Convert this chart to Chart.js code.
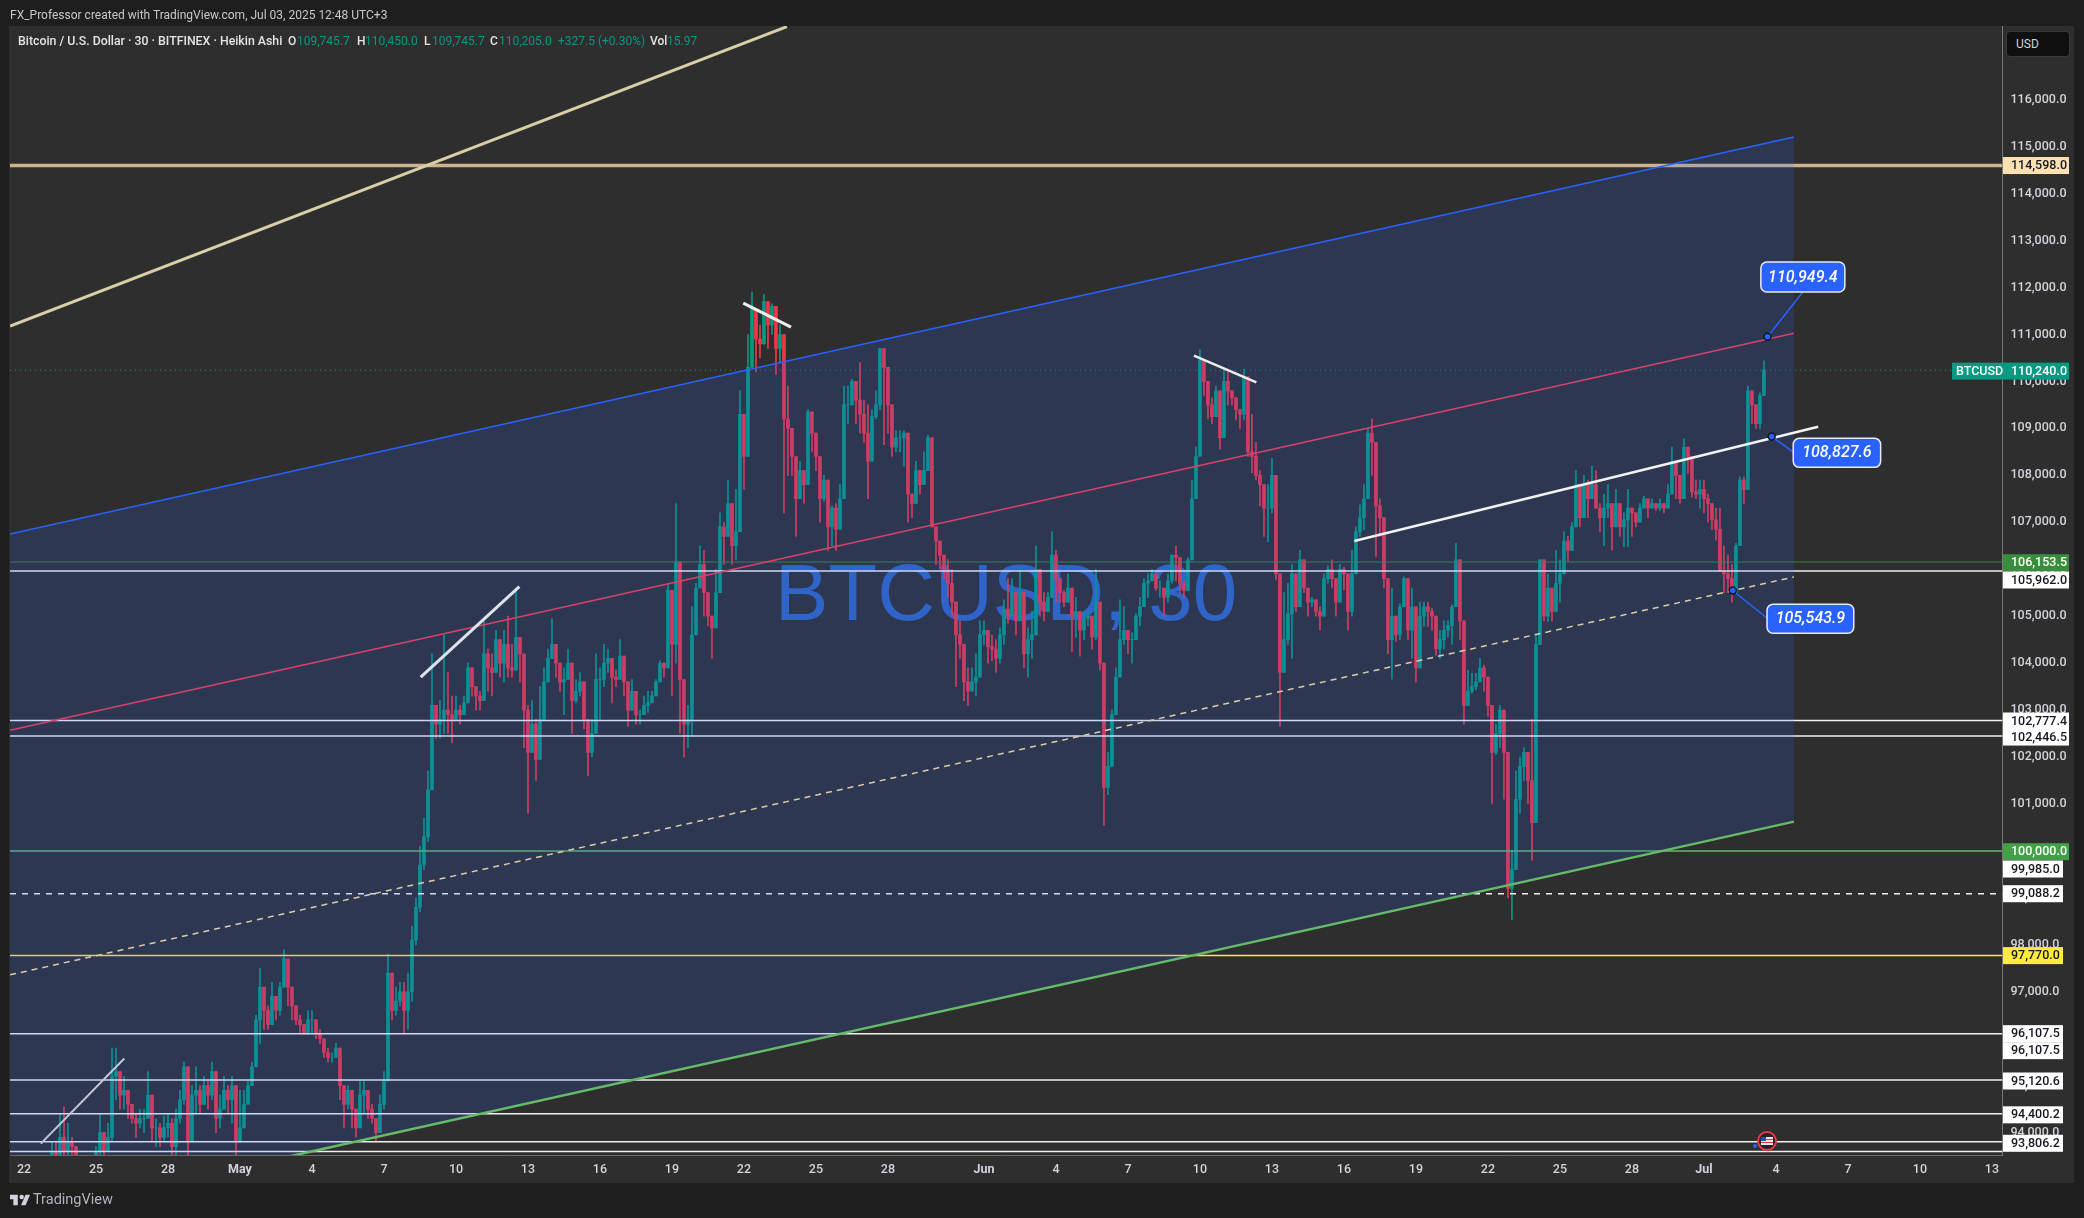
<!DOCTYPE html>
<html>
<head>
<meta charset="utf-8">
<title>BTCUSD 30</title>
<script src="https://cdn.jsdelivr.net/npm/chart.js@4"></script>
<style>
  html, body { margin: 0; padding: 0; background: #1e1e1e; overflow: hidden; }
  body { width: 2084px; height: 1218px; position: relative; font-family: Roboto, sans-serif; }
  #pane { position: absolute; left: 9px; top: 26px; width: 2065px; height: 1157px; background: #2e2e2e; }
  canvas { position: absolute; left: 0; top: 0; }
  .txt { position: absolute; white-space: nowrap; font-size: 12px; line-height: 14px; color: #e4e4e4; }
  .up { color: #089981; }
  #usd { position: absolute; left: 2006px; top: 31px; width: 64px; height: 26px; background: #0f0f0f;
         border: 1px solid #3a3a3a; border-radius: 4px; box-sizing: border-box; color: #d1d4dc;
         font-size: 12px; line-height: 24px; padding-left: 9px; }
  #logo { position: absolute; left: 10px; top: 1194px; }
  #brand { position: absolute; left: 33px; top: 1191px; font-size: 14.5px; line-height: 18px; color: #b2b5be; }
</style>
</head>
<body>
<div id="pane"></div>
<canvas id="chart" width="2084" height="1218"></canvas>

<div class="txt" style="left:10px;top:8px;color:#c8c8c8">FX_Professor created with TradingView.com, Jul 03, 2025 12:48 UTC+3</div>
<div class="txt" style="left:18px;top:34px;font-weight:500;font-size:12.3px">Bitcoin / U.S. Dollar · 30 · BITFINEX · Heikin Ashi</div>
<div class="txt" style="left:288px;top:34px;font-weight:500">O</div><div class="txt up" style="left:297px;top:34px">109,745.7</div>
<div class="txt" style="left:357px;top:34px;font-weight:500">H</div><div class="txt up" style="left:365px;top:34px">110,450.0</div>
<div class="txt" style="left:424px;top:34px;font-weight:500">L</div><div class="txt up" style="left:432px;top:34px">109,745.7</div>
<div class="txt" style="left:490px;top:34px;font-weight:500">C</div><div class="txt up" style="left:499px;top:34px">110,205.0</div>
<div class="txt up" style="left:558px;top:34px">+327.5 (+0.30%)</div>
<div class="txt" style="left:650px;top:34px;font-weight:500">Vol</div><div class="txt up" style="left:667px;top:34px">15.97</div>
<div id="usd">USD</div>
<svg id="logo" width="20" height="12" viewBox="0 6 36 19"><path fill="#d1d4dc" d="M0 6h14v19H6V14H0z"/><circle fill="#d1d4dc" cx="21" cy="10" r="4"/><path fill="#d1d4dc" d="M20 25l8-19h8l-8 19z"/></svg>
<div id="brand">TradingView</div>

<script>
// eixo de tempo: dias contados a partir de 22 de abril
const tickDays = [0,3,6,9,12,15,18,21,24,27,30,33,36,40,43,46,49,52,55,58,61,64,67,70,73,76,79,82];
const tickNames = ['22','25','28','May','4','7','10','13','16','19','22','25','28','Jun','4','7','10','13','16','19','22','25','28','Jul','4','7','10','13'];
const priceTicks = [94000,95000,96000,97000,98000,99000,100000,101000,102000,103000,104000,105000,106000,107000,108000,109000,110000,111000,112000,113000,114000,115000,116000];

// velas (seis por dia, a partir de 23 de abril)
const firstDay = 1;
const opens = [
  93400,93500,93600,93400,93900,93600,
  93800,93700,93500,93200,93000,93200,
  93400,93600,94000,93600,93900,95200,
  95300,94800,94900,94600,94300,94200,
  94300,94300,94800,94100,94100,93900,
  94100,94200,93700,94300,94700,95400,
  93800,94800,94900,94600,95000,94800,
  95300,94300,94500,94900,94700,95000,
  93800,94100,94600,95000,95400,96400,
  97100,96600,96300,96900,96600,97100,
  97700,97100,96700,96400,96300,96100,
  96400,96400,96100,96000,95700,95600,
  95600,95800,95000,94600,94900,94500,
  94100,94800,94900,94500,94300,94000,
  94600,95100,97400,96600,96800,97000,
  96600,97000,98100,98800,99700,100300,
  101300,103100,102700,102800,103000,102900,
  102800,103000,102900,103150,103900,103500,
  103300,103200,104200,103900,103800,104500,
  104000,104400,103900,103850,104550,104200,
  103000,102100,102700,101950,102800,103600,
  104100,104400,104000,103600,103650,104000,
  103200,103400,103600,102800,102100,102500,
  103650,103650,104000,104100,103700,103650,
  104150,103600,103000,103400,102900,102900,
  103100,103150,103300,103600,104000,103900,
  105550,104400,106150,103650,102700,102800,
  104600,105600,106100,105500,105000,104750,
  105500,106900,106700,107400,106500,106800,
  109300,108400,110300,111550,110900,110800,
  111700,111200,111600,110700,111000,109200,
  109000,108400,107500,108100,107800,109350,
  108900,108400,107500,107900,106900,107300,
  106850,107500,109500,109500,110000,109600,
  109300,108900,108300,109250,109500,110700,
  110300,109500,108600,108800,108800,108900,
  107600,107400,108100,107800,108100,108800,
  106900,106600,106300,106000,105700,105300,
  104600,104400,103600,103400,103600,103700,
  104600,104700,104350,104300,104100,104600,
  105150,105000,105500,104900,105500,104200,
  104500,104600,106000,105300,105100,105400,
  106300,105800,105500,105300,105600,105000,
  105100,104700,104950,105000,104550,105300,
  104000,101350,101800,102900,103700,104500,
  104700,104500,104500,105000,105200,105700,
  105750,105900,105600,105600,105400,105750,
  106300,106250,105700,105550,106200,107500,
  108400,110450,110000,109500,109250,109800,
  108800,110000,109800,109650,109400,109300,
  110100,108500,108400,108000,107800,107300,
  107300,108000,105900,103800,104500,105050,
  105900,105200,106200,105600,105300,105350,
  105100,105000,105800,106000,105800,105300,
  106000,105900,105100,105900,106800,107100,
  107500,108900,108700,107350,107100,105800,
  104500,105000,104600,105200,105800,104700,
  105200,103900,105000,105200,105100,105000,
  104300,104500,104700,104800,105200,106200,
  104900,103100,103400,103500,103600,103900,
  103700,103100,102100,102500,103000,102100,
  99200,99600,101100,101800,102100,101500,
  100600,104400,106200,105000,105600,105100,
  105700,105900,106600,106400,106900,107800,
  107100,107800,107500,107800,107300,107100,
  107300,107400,106900,107400,106900,107050,
  107300,107200,107000,107300,107500,107300,
  107400,107300,107400,107300,107600,108300,
  108000,107500,108600,108400,107650,107600,
  107700,107500,107400,107050,106850,105950,
  105900,105800,105500,106500,107900,107700,
  109800,109500,109100,109700
];
const closes = [
  93500,93600,93400,93900,93600,93800,
  93700,93500,93200,93000,93200,93400,
  93600,94000,93600,93900,95200,95300,
  94800,94900,94600,94300,94200,94300,
  94300,94800,94100,94100,93900,94100,
  94200,93700,94300,94700,95400,93800,
  94800,94900,94600,95000,94800,95300,
  94300,94500,94900,94700,95000,93800,
  94100,94600,95000,95400,96400,97100,
  96600,96300,96900,96600,97100,97700,
  97100,96700,96400,96300,96100,96400,
  96400,96100,96000,95700,95600,95600,
  95800,95000,94600,94900,94500,94100,
  94800,94900,94500,94300,94000,94600,
  95100,97400,96600,96800,97000,96600,
  97000,98100,98800,99700,100300,101300,
  103100,102700,102800,103000,102900,102800,
  103000,102900,103150,103900,103500,103300,
  103200,104200,103900,103800,104500,104000,
  104400,103900,103850,104550,104200,103000,
  102100,102700,101950,102800,103600,104100,
  104400,104000,103600,103650,104000,103200,
  103400,103600,102800,102100,102500,103650,
  103650,104000,104100,103700,103650,104150,
  103600,103000,103400,102900,102900,103100,
  103150,103300,103600,104000,103900,105550,
  104400,106150,103650,102700,102800,104600,
  105600,106100,105500,105000,104750,105500,
  106900,106700,107400,106500,106800,109300,
  108400,110300,111550,110900,110800,111700,
  111200,111600,110700,111000,109200,109000,
  108400,107500,108100,107800,109350,108900,
  108400,107500,107900,106900,107300,106850,
  107500,109500,109500,110000,109600,109300,
  108900,108300,109250,109500,110700,110300,
  109500,108600,108800,108800,108900,107600,
  107400,108100,107800,108100,108800,106900,
  106600,106300,106000,105700,105300,104600,
  104400,103600,103400,103600,103700,104600,
  104700,104350,104300,104100,104600,105150,
  105000,105500,104900,105500,104200,104500,
  104600,106000,105300,105100,105400,106300,
  105800,105500,105300,105600,105000,105100,
  104700,104950,105000,104550,105300,104000,
  101350,101800,102900,103700,104500,104700,
  104500,104500,105000,105200,105700,105750,
  105900,105600,105600,105400,105750,106300,
  106250,105700,105550,106200,107500,108400,
  110450,110000,109500,109250,109800,108800,
  110000,109800,109650,109400,109300,110100,
  108500,108400,108000,107800,107300,107300,
  108000,105900,103800,104500,105050,105900,
  105200,106200,105600,105300,105350,105100,
  105000,105800,106000,105800,105300,106000,
  105900,105100,105900,106800,107100,107500,
  108900,108700,107350,107100,105800,104500,
  105000,104600,105200,105800,104700,105200,
  103900,105000,105200,105100,105000,104300,
  104500,104700,104800,105200,106200,104900,
  103100,103400,103500,103600,103900,103700,
  103100,102100,102500,103000,102100,99200,
  99600,101100,101800,102100,101500,100600,
  104400,106200,105000,105600,105100,105700,
  105900,106600,106400,106900,107800,107100,
  107800,107500,107800,107300,107100,107300,
  107400,106900,107400,106900,107050,107300,
  107200,107000,107300,107500,107300,107400,
  107300,107400,107300,107600,108300,108000,
  107500,108600,108400,107650,107600,107700,
  107500,107400,107050,106850,105950,105900,
  105800,105500,106500,107900,107700,109800,
  109500,109100,109700,110240
];
const highs = [
  93500,93800,93800,94400,94550,94200,
  93900,93700,93500,93400,93400,93500,
  93700,94400,94000,94200,95800,95800,
  95300,95200,94900,94600,94400,94500,
  94500,95300,94800,94300,94200,94350,
  94400,94300,94500,94900,95500,95400,
  95000,95400,95000,95200,95100,95500,
  95300,94800,95200,95000,95200,95000,
  94900,94900,95100,95500,96500,97500,
  97000,96700,97200,96900,97200,97900,
  97600,97100,96700,96500,96300,96600,
  96600,96400,96200,96000,95800,95700,
  95900,95800,95000,95000,94900,94500,
  95100,95100,94900,94600,94300,94800,
  95300,97800,97400,97100,97200,97200,
  97400,98400,99000,100100,100700,101700,
  104200,103100,103200,104600,103800,103300,
  103300,103100,103300,104000,103900,103500,
  103400,104900,104300,104200,104700,104500,
  104700,105000,104400,105600,104550,103800,
  103100,103200,102800,103500,103900,104300,
  104950,104400,104000,103900,104300,104000,
  103650,103800,103600,102800,102800,104200,
  103900,104400,104300,104100,103850,104500,
  104150,103600,103650,103400,103000,103300,
  103400,103400,103650,104050,104000,105700,
  105550,107400,106150,103300,103100,105200,
  105700,106500,106400,105500,105000,106000,
  107200,107000,107900,107400,107700,109800,
  109300,111000,111900,111550,111200,111850,
  111700,111650,111600,111200,111000,109900,
  109000,108400,108300,108100,109400,109350,
  108900,108400,108000,107900,107350,107400,
  107800,109900,109900,110050,110000,110400,
  109600,109500,109400,109800,110700,110700,
  109900,109500,108950,108950,108950,108900,
  107600,108300,108100,108500,108850,108800,
  106900,106600,106300,106200,106000,105300,
  104900,104400,103900,103900,104200,104900,
  104900,104700,104600,104500,104750,105350,
  105800,105800,105500,106000,105500,104750,
  105100,106500,106000,105500,105500,106800,
  106400,105800,105550,105900,105600,105400,
  105100,105100,105100,105000,106000,105300,
  104000,102100,103000,103900,105350,105200,
  104700,104650,105050,105400,105800,105900,
  106000,105900,105750,105600,105900,106300,
  106500,106250,105750,106250,107900,108600,
  110670,110450,110000,109650,109900,109800,
  110250,110200,109800,109650,109400,110260,
  110100,109300,108700,108100,107800,107800,
  108360,108000,105900,105500,105700,106100,
  105900,106400,106200,105600,105400,105350,
  105200,105900,106070,106200,105800,106100,
  106040,105900,106400,106900,107370,107800,
  109000,109200,108700,107500,107100,105800,
  105600,105000,105260,105840,105800,105600,
  105200,105300,105300,105300,105170,105000,
  104700,104900,104900,105240,106550,106200,
  104900,103850,103780,103780,104100,103960,
  103700,103100,102700,103100,103000,102100,
  100000,101700,102000,102200,102100,102800,
  104600,106200,106200,105900,105600,106400,
  106200,106800,106700,107000,108100,107800,
  108000,107900,108200,108100,107400,107600,
  107800,107400,107700,107400,107200,107700,
  107300,107200,107400,107550,107500,107500,
  107400,107500,107400,107800,108600,108300,
  108000,108770,108600,108400,107900,107900,
  107900,107600,107400,107300,107300,106500,
  106300,106100,106550,107970,107970,109900,
  109800,109500,109750,110440
];
const lows = [
  93000,93200,93000,93300,93300,93400,
  93400,93200,92900,92800,92900,93100,
  93300,93500,93300,93600,93800,94700,
  94500,94500,94300,94200,93900,94100,
  94000,94300,93800,93700,93700,93800,
  93900,93500,93500,94200,94600,93500,
  94000,94400,94400,94600,94500,94700,
  94000,94100,94500,94400,94200,93500,
  93800,94100,94700,95100,95500,95900,
  96200,96200,96300,96400,96500,97100,
  96700,96400,96300,96100,96100,96100,
  96100,96000,95900,95600,95500,95500,
  95600,94700,94100,94500,94100,93900,
  94100,94400,94300,94200,93800,94000,
  94500,95200,96400,96500,96700,96100,
  96200,96800,98000,98700,99600,100200,
  102500,102400,102400,102500,102500,102300,
  102800,102700,102900,103150,103300,103000,
  103000,103200,103400,103300,103800,103700,
  103600,103700,103700,103850,103600,102200,
  100800,102100,101500,101950,102800,103600,
  104100,103700,103400,102900,103650,102500,
  103150,103300,102600,101600,102000,102500,
  102800,103500,103800,103150,103500,103650,
  103300,102650,103000,102700,102700,102900,
  102950,103150,103300,103600,103700,103900,
  103300,104000,102500,102000,102200,102450,
  104600,105600,105000,104800,104100,104750,
  106100,106100,106700,106100,106200,106800,
  107700,108400,110300,110200,110500,110800,
  110700,111000,110150,110400,107200,108000,
  108000,106700,107500,107400,107800,108500,
  108100,107000,107450,106400,106500,106400,
  107100,107500,109100,109500,109100,108900,
  108700,107500,108300,109200,109400,108650,
  108900,108400,108500,108500,108200,107000,
  107100,107400,107600,107800,108100,106900,
  106100,106000,105800,105400,105000,103500,
  104100,103200,103100,103400,103300,103700,
  104400,104000,104050,103800,104000,104400,
  104850,105000,104600,105000,103900,103700,
  104100,104600,105000,104900,105100,105400,
  105300,105300,105200,105300,104250,104550,
  104150,104500,104800,104300,104500,103850,
  100550,101200,101800,102900,103750,104400,
  104200,104000,104500,104800,105200,105400,
  105750,105550,105400,105000,105300,105700,
  105750,105500,105400,105550,106200,107760,
  108900,109700,109200,109100,109300,108560,
  108830,109500,109500,109180,109000,109180,
  108400,108050,107900,107350,106700,106580,
  107200,105770,102650,103800,104400,104100,
  105100,105500,105500,105000,105200,105000,
  104700,105000,105700,105600,105000,105300,
  105560,104700,105000,105900,106700,106840,
  107500,108000,106270,106700,105600,104200,
  103660,104460,104500,105300,104500,104100,
  103600,103900,104780,104780,104700,104170,
  104100,104300,104560,104400,105200,104500,
  102700,103100,103360,103430,103700,103400,
  102870,101000,102050,102200,101100,99000,
  98540,99600,100800,101500,101000,99800,
  100600,104400,104900,104880,104900,105100,
  105300,105900,106170,106400,106900,106900,
  107100,107100,107500,107300,106800,106500,
  107100,106400,106900,106700,106480,106480,
  106700,106900,107000,107350,107100,107300,
  107250,107250,107200,107300,107700,107500,
  107400,107500,108040,107540,107500,107300,
  107200,107000,106840,106620,105950,105500,
  105500,105300,105490,106900,107400,107700,
  109100,109000,109000,109700
];

// canal paralelo: dois pontos por linha
const channelDays = [-0.58, 73.75];
const channelTop = [106750, 115205];
const channelMid = [102570, 111025];
const channelMedian = [97360, 105835];
const channelBottom = [92170, 100624];

// linhas de tendência desenhadas
const tanDays = [-0.58, 31.79];
const tanPrices = [111180, 117557];
const segDaysA = [0.7, 4.18];
const segPricesA = [93765, 95579];
const segDaysB = [16.53, 20.64];
const segPricesB = [103700, 105630];
const segDaysC = [29.97, 31.96];
const segPricesC = [111668, 111157];
const segDaysD = [48.75, 51.35];
const segPricesD = [110548, 109980];
const segDaysE = [55.43, 74.76];
const segPricesE = [106599, 109034];

// níveis horizontais
const levelPrices = [114598, 106153.5, 105962, 102777.4, 102446.5, 100000, 99088.2, 97770, 96107.5, 95120.6, 94400.2, 93806.2, 93600];
const lastPrice = 110240;

// etiquetas do eixo de preços
const tagPrices = [114598, 110240, 106153.5, 105962, 102777.4, 102446.5, 100000, 99985, 99088.2, 97770, 96107.5, 96107.5, 95120.6, 94400.2, 93806.2];
const tagShifts = [0, 1, 0.7, 9, 0.5, 1, 0.8, 17.4, 0, 0, 0, 17, 1, 1, 1.6];
const tagFills = ['#ffe0b2', '#089981', '#388e3c', '#ffffff', '#ffffff', '#ffffff', '#43a047', '#ffffff', '#ffffff', '#ffeb3b', '#ffffff', '#ffffff', '#ffffff', '#ffffff', '#ffffff'];

// notas com preço
const noteDays = [72.65, 72.82, 71.2];
const notePrices = [110949.4, 108827.6, 105543.9];
const noteBoxes = [
  { dx: -6.7, dy: -74.8, w: 84, h: 30, ax: 35.3, ay: -44.8 },
  { dx: 21.6, dy: 1.9, w: 87.4, h: 29, ax: 21.6, ay: 15.6 },
  { dx: 34.3, dy: 13.7, w: 86.7, h: 29, ax: 34.3, ay: 27.4 }
];

const fmt = v => v.toLocaleString('en-US', { minimumFractionDigits: 1, maximumFractionDigits: 1 });

const xMin = -0.583, xMax = 82.44;
const yMin = 93523, yMax = 117570;
const upColor = '#089981', downColor = '#f23645';

const candleDays = opens.map((_, i) => firstDay + i / 6);
const candleColors = opens.map((o, i) => closes[i] >= o ? upColor : downColor);

function pts(xs, ys) {
    return xs.map((x, i) => ({ x: x, y: ys[i] }));
}

function lineSet(xs, ys, color, width, order, extra) {
    return Object.assign({
        type: 'line',
        data: pts(xs, ys),
        borderColor: color,
        borderWidth: width,
        pointRadius: 0,
        tension: 0,
        fill: false,
        order: order
    }, extra || {});
}

const levelColor = v => {
    if (v === 114598) return '#cdb48f';
    if (v === 106153.5) return '#3f8245';
    if (v === 100000) return '#66bb6a';
    if (v === 97770) return '#ffeb3b';
    return '#f0f0f4';
};

const levelSets = levelPrices.map(v => lineSet([xMin, xMax], [v, v], levelColor(v), v === 114598 ? 3.5 : (v === 106153.5 ? 1 : 1.5), 8));
levelSets[6].borderDash = [6, 6];

const datasets = [
    {
        type: 'bar',
        data: candleDays.map((d, i) => ({ x: d, y: [lows[i], highs[i]] })),
        backgroundColor: candleColors,
        barThickness: 1,
        grouped: false,
        order: 21
    },
    {
        type: 'bar',
        data: candleDays.map((d, i) => ({ x: d, y: [opens[i], closes[i]] })),
        backgroundColor: candleColors,
        barThickness: 3,
        grouped: false,
        order: 20
    },
    lineSet(channelDays, channelBottom, '#66bb6a', 2.5, 3),
    // o preenchimento do canal fica por cima das velas, como no original
    lineSet(channelDays, channelTop, '#2962ff', 1.5, 5, { fill: { target: 2 }, backgroundColor: 'rgba(41,98,255,0.17)' }),
    lineSet(channelDays, channelMid, '#d9426a', 1.5, 3),
    lineSet(channelDays, channelMedian, '#dccdaa', 1.5, 3, { borderDash: [6, 5] }),
    lineSet(tanDays, tanPrices, '#d8cfa6', 3, 3),
    lineSet(segDaysA, segPricesA, '#c3c8d6', 2, 2),
    lineSet(segDaysB, segPricesB, '#dde2ec', 3, 2),
    lineSet(segDaysC, segPricesC, '#eeeeee', 3, 2),
    lineSet(segDaysD, segPricesD, '#eeeeee', 2.5, 2),
    lineSet(segDaysE, segPricesE, '#f2f2f2', 2.5, 2),
    lineSet([xMin, 80.3], [lastPrice, lastPrice], upColor, 1, 7, { borderDash: [1, 4] })
].concat(levelSets);

function roundBox(ctx, x, y, w, h, r) {
    ctx.beginPath();
    ctx.roundRect(x, y, w, h, r);
}

const overlayPlugin = {
    id: 'overlay',
    beforeDatasetsDraw(chart) {
        const ctx = chart.ctx;
        ctx.save();
        ctx.fillStyle = '#3164bd';
        ctx.font = '80px "Liberation Sans", Arial, sans-serif';
        ctx.textAlign = 'left';
        ctx.textBaseline = 'alphabetic';
        ctx.fillText('BTCUSD, 30', 775, 620);
        ctx.restore();
    },
    afterDatasetsDraw(chart) {
        const ctx = chart.ctx;
        const xs = chart.scales.x, ys = chart.scales.y;
        ctx.save();

        // etiquetas do eixo de preços
        ctx.font = '500 12.5px Roboto, sans-serif';
        ctx.textBaseline = 'middle';
        ctx.textAlign = 'left';
        tagPrices.forEach((v, i) => {
            const y = ys.getPixelForValue(v) + tagShifts[i];
            const w = v >= 100000 ? 66 : 60;
            ctx.fillStyle = tagFills[i];
            ctx.fillRect(2003, y - 8.5, w, 17);
            const dark = tagFills[i] === '#089981' || tagFills[i] === '#388e3c' || tagFills[i] === '#43a047';
            ctx.fillStyle = dark ? '#ffffff' : '#131722';
            ctx.fillText(fmt(v), 2011, y + 0.5);
        });

        // rótulo do símbolo à esquerda do eixo
        const lastY = ys.getPixelForValue(lastPrice) + 1;
        ctx.fillStyle = upColor;
        ctx.fillRect(1952, lastY - 8.5, 51, 17);
        ctx.fillStyle = '#ffffff';
        ctx.fillText('BTCUSD', 1956, lastY + 0.5);

        // notas
        notePrices.forEach((v, i) => {
            const px = xs.getPixelForValue(noteDays[i]);
            const py = ys.getPixelForValue(v);
            const b = noteBoxes[i];
            ctx.strokeStyle = '#2962ff';
            ctx.lineWidth = 1.5;
            ctx.beginPath();
            ctx.moveTo(px, py);
            ctx.lineTo(px + b.ax, py + b.ay);
            ctx.stroke();

            ctx.fillStyle = '#2962ff';
            ctx.strokeStyle = '#131722';
            ctx.beginPath();
            ctx.arc(px, py, 3.5, 0, Math.PI * 2);
            ctx.fill();
            ctx.stroke();

            roundBox(ctx, px + b.dx, py + b.dy, b.w, b.h, 6);
            ctx.fillStyle = '#2962ff';
            ctx.fill();
            ctx.strokeStyle = '#e8ecf5';
            ctx.stroke();
            ctx.fillStyle = '#ffffff';
            ctx.font = 'italic 500 16px Roboto, sans-serif';
            ctx.textAlign = 'center';
            ctx.fillText(fmt(v), px + b.dx + b.w / 2, py + b.dy + b.h / 2 + 0.5);
        });

        // ícone de eventos (EUA) na parte de baixo
        ctx.beginPath();
        ctx.arc(1767, 1141, 9, 0, Math.PI * 2);
        ctx.fillStyle = '#20222c';
        ctx.fill();
        ctx.lineWidth = 2;
        ctx.strokeStyle = '#f23645';
        ctx.stroke();
        ctx.fillStyle = '#e8e8e8';
        ctx.fillRect(1761, 1137, 12, 8);
        ctx.fillStyle = '#d8394e';
        ctx.fillRect(1761, 1139, 12, 1);
        ctx.fillRect(1761, 1142, 12, 1);
        ctx.fillStyle = '#2f4f9f';
        ctx.fillRect(1761, 1137, 5, 4);
        ctx.beginPath();
        ctx.arc(1755, 1146, 2, 0, Math.PI * 2);
        ctx.fillStyle = '#2962ff';
        ctx.fill();

        ctx.restore();
    }
};

new Chart(document.getElementById('chart'), {
    type: 'bar',
    data: { datasets: datasets },
    plugins: [overlayPlugin],
    options: {
        responsive: false,
        animation: false,
        devicePixelRatio: 1,
        layout: { padding: { left: 10, top: 26, right: 10, bottom: 35 } },
        plugins: {
            legend: { display: false },
            tooltip: { enabled: false }
        },
        scales: {
            x: {
                type: 'linear',
                offset: false,
                min: xMin,
                max: xMax,
                grid: { display: false, drawTicks: false },
                border: { display: true, color: '#6a6a6a', width: 1 },
                afterBuildTicks(scale) {
                    scale.ticks = tickDays.map(v => ({ value: v }));
                },
                afterFit(scale) {
                    scale.height = 28;
                },
                ticks: {
                    autoSkip: false,
                    maxRotation: 0,
                    padding: 7,
                    color: '#d1d4dc',
                    font: ctx => {
                        const name = ctx.tick ? tickNames[tickDays.indexOf(ctx.tick.value)] : '22';
                        return { family: 'Roboto', size: 12.5, weight: isNaN(name) ? 700 : 500 };
                    },
                    callback: v => tickNames[tickDays.indexOf(v)]
                }
            },
            y: {
                type: 'linear',
                position: 'right',
                min: yMin,
                max: yMax,
                grid: { display: false, drawTicks: false },
                border: { display: true, color: '#787878', width: 1 },
                afterBuildTicks(scale) {
                    scale.ticks = priceTicks.map(v => ({ value: v }));
                },
                afterFit(scale) {
                    scale.width = 71.5;
                },
                ticks: {
                    autoSkip: false,
                    padding: 8,
                    color: '#d1d4dc',
                    font: { family: 'Roboto', size: 12.5, weight: 500 },
                    callback: v => fmt(v)
                }
            }
        }
    }
});
</script>
</body>
</html>
